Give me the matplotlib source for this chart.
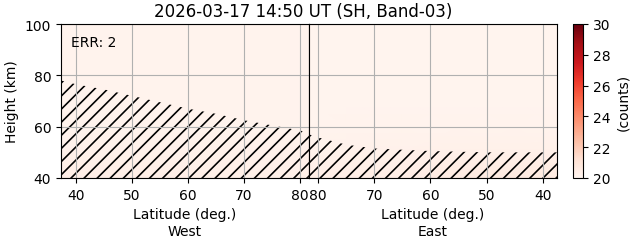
import numpy as np
import matplotlib
matplotlib.use("Agg")
import matplotlib.pyplot as plt

# широты (запад / восток) и высоты сетки фона
lat_west = [37.3, 45, 55, 65, 75, 81.6]
lat_east = [81.6, 75, 65, 55, 45, 37.5]
heights = [40, 50, 60, 70, 80, 90, 100]

# фоновые отсчёты (строки -- высоты, столбцы -- широты)
counts_west = [
    [20.4, 20.4, 20.4, 20.35, 20.35, 20.35],
    [20.25, 20.25, 20.25, 20.25, 20.25, 20.25],
    [20.15, 20.15, 20.15, 20.15, 20.15, 20.15],
    [20.12, 20.12, 20.12, 20.12, 20.12, 20.12],
    [20.12, 20.12, 20.12, 20.12, 20.12, 20.12],
    [20.12, 20.12, 20.12, 20.12, 20.12, 20.12],
    [20.12, 20.12, 20.12, 20.12, 20.12, 20.12],
]
counts_east = [
    [20.35, 20.4, 20.5, 20.6, 20.7, 20.7],
    [20.2, 20.22, 20.25, 20.3, 20.3, 20.3],
    [20.1, 20.12, 20.12, 20.12, 20.12, 20.12],
    [20.08, 20.08, 20.08, 20.08, 20.08, 20.08],
    [20.08, 20.08, 20.08, 20.08, 20.08, 20.08],
    [20.08, 20.08, 20.08, 20.08, 20.08, 20.08],
    [20.08, 20.08, 20.08, 20.08, 20.08, 20.08],
]

# граница заштрихованной области (нет данных)
edge_lat_west = [37.3, 40, 45, 50, 55, 60, 65, 70, 75, 80, 81.6]
edge_h_west = [78, 76.5, 74.5, 72, 69.5, 67, 65, 62.5, 60.5, 58.5, 57.5]
edge_lat_east = [81.6, 80, 77.5, 75, 70, 65, 60, 50, 40, 37.5]
edge_h_east = [57, 55.8, 54.4, 53, 51.5, 51, 50.5, 50, 50, 50]

lat_ticks = [40, 50, 60, 70, 80]
err_count = 2

# dpi подобран под плотность штриховки, размеры в пунктах пересчитаны обратно
DPI = 118
k = 100 / DPI
plt.rcParams.update({
    "font.size": 10 * k,
    "axes.linewidth": 0.8 * k,
    "xtick.major.size": 3.5 * k, "ytick.major.size": 3.5 * k,
    "xtick.major.width": 0.8 * k, "ytick.major.width": 0.8 * k,
    "xtick.major.pad": 3.5 * k, "ytick.major.pad": 3.5 * k,
    "axes.labelpad": 4 * k,
    "hatch.linewidth": 1.0,
})

fig = plt.figure(figsize=(631 / DPI, 243 / DPI), dpi=DPI)
ax_w = fig.add_axes([61 / 631, 1 - 179 / 243, 248 / 631, 154 / 243])
ax_e = fig.add_axes([309 / 631, 1 - 179 / 243, 248 / 631, 154 / 243], sharey=ax_w)
cax = fig.add_axes([573 / 631, 1 - 179 / 243, 10 / 631, 154 / 243])

mesh = ax_w.pcolormesh(lat_west, heights, counts_west, cmap="Reds", vmin=20, vmax=30, shading="gouraud")
ax_e.pcolormesh(lat_east, heights, counts_east, cmap="Reds", vmin=20, vmax=30, shading="gouraud")

ax_w.fill_between(edge_lat_west, 40, edge_h_west, facecolor="none", edgecolor="black", hatch="///", linewidth=0)
ax_e.fill_between(edge_lat_east, 40, edge_h_east, facecolor="none", edgecolor="black", hatch="///", linewidth=0)

ax_w.set_xlim(37.3, 81.6)
ax_e.set_xlim(81.6, 37.5)
ax_w.set_ylim(40, 100)
for ax in (ax_w, ax_e):
    ax.set_xticks(lat_ticks)
    ax.grid(True, color="#b0b0b0", linewidth=0.8 * k)
ax_w.set_yticks([40, 60, 80, 100])
ax_e.tick_params(axis="y", left=False, labelleft=False)

ax_w.set_xlabel("Latitude (deg.)\nWest", labelpad=4 * k, linespacing=1.25)
ax_e.set_xlabel("Latitude (deg.)\nEast", labelpad=4 * k, linespacing=1.25)
ax_w.set_ylabel("Height (km)")
ax_w.text(0.04, 0.93, "ERR: %d" % err_count, transform=ax_w.transAxes, va="top", ha="left", fontsize=10 * k)

fig.text(303 / 631, 1 - 12 / 243, "2026-03-17 14:50 UT (SH, Band-03)", ha="center", va="center", fontsize=12 * k)

cb = fig.colorbar(mesh, cax=cax)
cb.set_ticks([20, 22, 24, 26, 28, 30])
cb.set_label("(counts)")

fig.savefig("out.png", dpi=DPI)
